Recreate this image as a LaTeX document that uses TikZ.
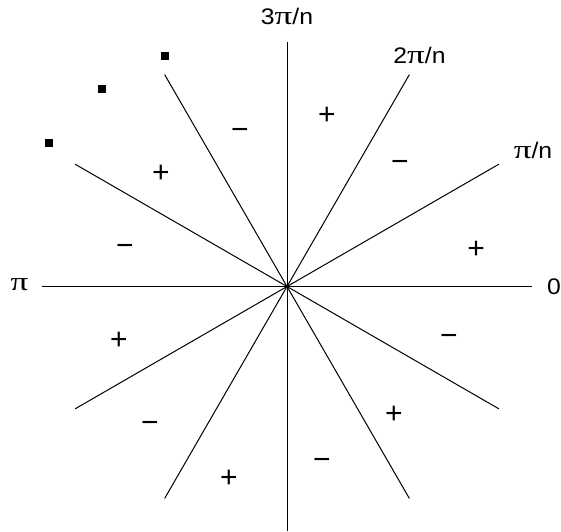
\documentclass[tikz,border=0pt]{standalone}
\usepackage{fontspec}
\usetikzlibrary{calc}
\setmainfont{Liberation Sans}
\newfontfamily\pifont{Liberation Serif}
\newcommand\W[1]{\scalebox{1.1}[1]{#1}}
\newcommand\PI{{\pifont\fontsize{26}{26}\selectfont\scalebox{1.35}[1]{π}}}
\begin{document}
\begin{tikzpicture}[x=1pt,y=-1pt,
  ray/.style={line width=1pt},
  sgn/.style={anchor=base, inner sep=0pt, font=\fontsize{30}{30}\selectfont},
  lbl/.style={anchor=base, inner sep=0pt, font=\fontsize{22.5}{22.5}\selectfont},
  dot/.style={fill=black, minimum size=8pt, inner sep=0pt, draw=none}]
\useasboundingbox (0,0) rectangle (561,531);
\coordinate (O) at (287,286.5);
\foreach \i in {0,...,11}{
  \coordinate (e\i) at ($(O)+(\i*30:244.7)$);
  \draw[ray] (O) -- (e\i);
}
% dots
\node[dot] (d1) at (165,56) {};
\node[dot] (d2) at (102,89) {};
\node[dot] (d3) at (49,143) {};
% signs
\node[sgn] (s1) at (327,124.5) {+};
\node[sgn] (s2) at (400,171.5) {−};
\node[sgn] (s3) at (476,258.5) {+};
\node[sgn] (s4) at (449,345.5) {−};
\node[sgn] (s5) at (394,423.5) {+};
\node[sgn] (s6) at (322,469.5) {−};
\node[sgn] (s7) at (229,487.5) {+};
\node[sgn] (s8) at (150,432.5) {−};
\node[sgn] (s9) at (119,349.5) {+};
\node[sgn] (s10) at (125,255.5) {−};
\node[sgn] (s11) at (161,182.5) {+};
\node[sgn] (s12) at (240,139.5) {−};
% labels
\node[lbl] (l3) at (287,24.5) {\W{3}\PI\W{/n}};
\node[lbl] (l2) at (419.5,63) {\W{2}\PI\W{/n}};
\node[lbl] (l1) at (533,158) {\PI\W{/n}};
\node[lbl] (l0) at (554,294.3) {\W{0}};
\node[inner sep=0pt] (lpi) at (19.5,285) {\PI};
\end{tikzpicture}
\end{document}
